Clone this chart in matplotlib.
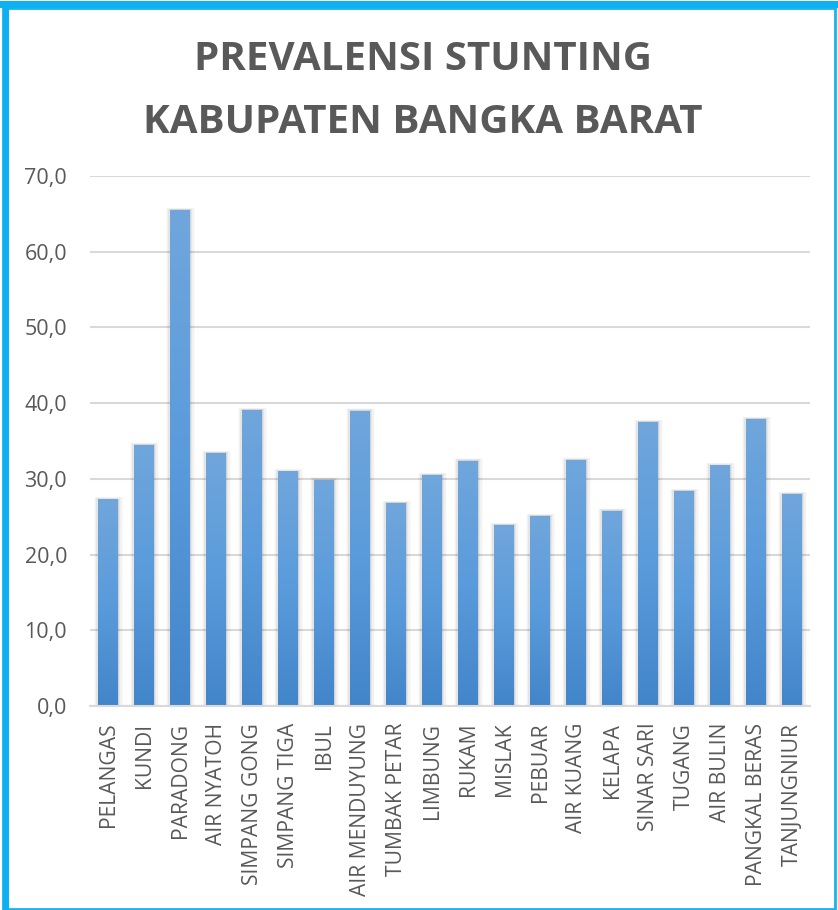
import numpy as np
import matplotlib.pyplot as plt
from matplotlib.patches import Rectangle
from matplotlib.colors import LinearSegmentedColormap

desa = ['PELANGAS', 'KUNDI', 'PARADONG', 'AIR NYATOH', 'SIMPANG GONG',
        'SIMPANG TIGA', 'IBUL', 'AIR MENDUYUNG', 'TUMBAK PETAR', 'LIMBUNG',
        'RUKAM', 'MISLAK', 'PEBUAR', 'AIR KUANG', 'KELAPA', 'SINAR SARI',
        'TUGANG', 'AIR BULIN', 'PANGKAL BERAS', 'TANJUNGNIUR']
prevalensi = [27.3, 34.5, 65.5, 33.4, 39.1, 31.0, 29.9, 39.0, 26.8, 30.5,
              32.4, 23.9, 25.1, 32.5, 25.8, 37.5, 28.4, 31.8, 37.9, 28.0]
yticks = [0, 10, 20, 30, 40, 50, 60, 70]

grey = '#595959'
plt.rcParams['font.family'] = ['Open Sans', 'DejaVu Sans']

fig = plt.figure(figsize=(8.38, 9.10), dpi=100)
ax = fig.add_axes([0.1074, 0.2242, 0.8592, 0.5824])

x = np.arange(len(desa))
bars = ax.bar(x, prevalensi, width=0.53, color='#5B9BD5', zorder=3)

# gradient fill, lighter at top, darker at bottom
cmap = LinearSegmentedColormap.from_list('bl', ['#4285C9', '#5A9BDB', '#70A6DC'])
grad = np.linspace(0, 1, 256).reshape(-1, 1)
for b in bars:
    x0, y0 = b.get_x(), b.get_y()
    w, h = b.get_width(), b.get_height()
    # soft shadow round the bar
    for k, a in enumerate([0.07, 0.05, 0.03, 0.02]):
        dx = 0.035 * (k + 1)
        sh = Rectangle((x0 - dx + 0.01, y0), w + 2 * dx, h + 0.08 * (k + 1),
                       facecolor='#000000', alpha=a, linewidth=0, zorder=2)
        ax.add_patch(sh)
    im = ax.imshow(grad, extent=[x0, x0 + w, y0, y0 + h], origin='lower',
                   cmap=cmap, aspect='auto', zorder=4)
    im.set_clip_path(b)

ax.set_xlim(-0.5, len(desa) - 0.5)
ax.set_ylim(0, 70)
ax.set_yticks(yticks)
ax.set_yticklabels([f'{v:.1f}'.replace('.', ',') for v in yticks])
ax.set_xticks(x)
ax.set_xticklabels(desa, rotation=90)
ax.tick_params(axis='y', length=0, pad=16.5, labelsize=15.5, labelcolor=grey)
ax.tick_params(axis='x', length=0, pad=12, labelsize=15.2, labelcolor=grey)
ax.grid(axis='y', color='#D9D9D9', linewidth=1.5, zorder=0)
for s in ['top', 'right', 'left']:
    ax.spines[s].set_visible(False)
ax.spines['bottom'].set_color('#D9D9D9')
ax.spines['bottom'].set_linewidth(1.5)
ax.spines['bottom'].set_zorder(5)

fig.text(0.505, 0.9344, 'PREVALENSI STUNTING', ha='center', va='center',
         fontsize=29, fontweight='bold', color=grey)
fig.text(0.505, 0.8654, 'KABUPATEN BANGKA BARAT', ha='center', va='center',
         fontsize=29, fontweight='bold', color=grey)

# blue frame around the chart
fig.patches.append(Rectangle((0.004, 0.001), 0.993, 0.990, transform=fig.transFigure,
                             fill=False, edgecolor='#1AB3F0', linewidth=2))
fig.patches.append(Rectangle((0.0, 0.991), 1.0, 0.008, transform=fig.transFigure,
                             facecolor='#0DB0F0', edgecolor='none'))
fig.patches.append(Rectangle((0.004, 0.0), 0.007, 0.995, transform=fig.transFigure,
                             facecolor='#0DB0F0', edgecolor='none'))

fig.savefig('out.png', dpi=100)
